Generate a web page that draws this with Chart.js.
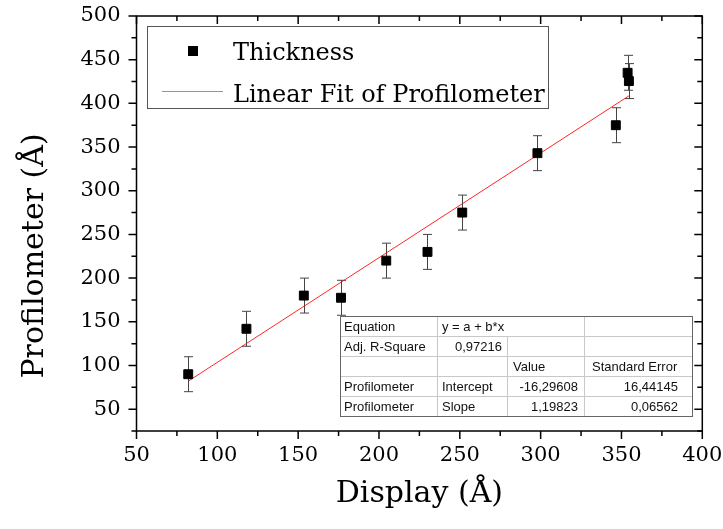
<!DOCTYPE html>
<html>
<head>
<meta charset="utf-8">
<script src="https://cdn.jsdelivr.net/npm/chart.js@4.4.1/dist/chart.umd.min.js"></script>
<style>
  html, body { margin: 0; padding: 0; background: #fff; }
</style>
</head>
<body>
<canvas id="chart" width="723" height="529"></canvas>
<script>
/* DATOS */
const displayX   = [82, 118, 153.5, 176.5, 204.5, 230, 251.5, 298, 346.5, 353.8, 354.6];
const thickness  = [90, 142, 180, 177.5, 220, 230, 275, 343, 375, 435, 425.5];
const thickErr   = [20, 20, 20, 20, 20, 20, 20, 20, 20, 20, 20];
const fitX       = [82, 354.6];
const fitY       = [82, 408.6];
const xTicks     = [50, 100, 150, 200, 250, 300, 350, 400];
const yTicks     = [50, 100, 150, 200, 250, 300, 350, 400, 450, 500];

const legendLabels = ['Thickness', 'Linear Fit of Profilometer'];

const tableRows = [
  ['Equation', 'y = a + b*x', '', ''],
  ['Adj. R-Square', '0,97216', '', ''],
  ['', '', 'Value', 'Standard Error'],
  ['Profilometer', 'Intercept', '-16,29608', '16,44145'],
  ['Profilometer', 'Slope', '1,19823', '0,06562'],
];

const serif = '"DejaVu Serif", serif';

/* PLUGIN: marco, marcas, barras de error, leyenda y tabla */
const decoraciones = {
  id: 'decoraciones',
  beforeDatasetsDraw(chart) {
    const { ctx, scales: { x, y } } = chart;
    ctx.save();
    ctx.strokeStyle = '#444';
    ctx.lineWidth = 1;
    displayX.forEach((v, i) => {
      const px = Math.round(x.getPixelForValue(v)) + 0.5;
      const top = y.getPixelForValue(thickness[i] + thickErr[i]);
      const bot = y.getPixelForValue(thickness[i] - thickErr[i]);
      ctx.beginPath();
      ctx.moveTo(px, top); ctx.lineTo(px, bot);
      ctx.moveTo(px - 4.5, top); ctx.lineTo(px + 4.5, top);
      ctx.moveTo(px - 4.5, bot); ctx.lineTo(px + 4.5, bot);
      ctx.stroke();
    });
    ctx.restore();
  },
  afterDraw(chart) {
    const { ctx, chartArea: a, scales: { x, y } } = chart;
    ctx.save();

    // marco
    ctx.strokeStyle = '#000';
    ctx.lineWidth = 1.5;
    ctx.strokeRect(a.left, a.top, a.right - a.left, a.bottom - a.top);

    // marcas mayores y menores
    ctx.beginPath();
    for (let v = x.min; v <= x.max; v += 25) {
      const px = x.getPixelForValue(v);
      const len = v % 50 === 0 ? 8 : 5;
      ctx.moveTo(px, a.bottom); ctx.lineTo(px, a.bottom + len);
      ctx.moveTo(px, a.top); ctx.lineTo(px, a.top + len);
    }
    for (let v = y.min; v <= y.max; v += 25) {
      const py = y.getPixelForValue(v);
      const len = v % 50 === 0 ? 8 : 5;
      ctx.moveTo(a.left, py); ctx.lineTo(a.left - len, py);
      ctx.moveTo(a.right, py); ctx.lineTo(a.right - len, py);
    }
    ctx.stroke();

    // titulos de ejes
    ctx.fillStyle = '#000';
    ctx.font = '30px ' + serif;
    ctx.textAlign = 'center';
    ctx.textBaseline = 'middle';
    ctx.fillText('Display (Å)', (a.left + a.right) / 2, 494);
    ctx.save();
    ctx.translate(35, 256);
    ctx.rotate(-Math.PI / 2);
    ctx.fillText('Profilometer (Å)', 0, 0);
    ctx.restore();

    // leyenda
    ctx.fillStyle = '#fff';
    ctx.fillRect(147, 26, 401, 82);
    ctx.strokeStyle = '#555';
    ctx.lineWidth = 1;
    ctx.strokeRect(147.5, 26.5, 401, 82);
    ctx.fillStyle = '#000';
    ctx.fillRect(188, 46, 10, 10);
    ctx.strokeStyle = 'rgba(255,0,0,0.6)';
    ctx.beginPath();
    ctx.moveTo(162, 91.5); ctx.lineTo(223, 91.5);
    ctx.stroke();
    ctx.font = '24px ' + serif;
    ctx.textAlign = 'left';
    ctx.textBaseline = 'alphabetic';
    ctx.fillText(legendLabels[0], 233, 60);
    ctx.fillText(legendLabels[1], 233, 102);

    // tabla del ajuste
    const cols = [340, 437, 507, 584, 692];
    const rowY = [316, 336, 356, 376, 396, 416];
    ctx.fillStyle = '#fff';
    ctx.fillRect(cols[0], rowY[0], cols[4] - cols[0], rowY[5] - rowY[0]);
    ctx.strokeStyle = '#c8c8c8';
    ctx.beginPath();
    for (let r = 1; r < 5; r++) {
      ctx.moveTo(cols[0], rowY[r] + 0.5); ctx.lineTo(cols[4], rowY[r] + 0.5);
    }
    ctx.moveTo(cols[1] + 0.5, rowY[0]); ctx.lineTo(cols[1] + 0.5, rowY[5]);
    ctx.moveTo(cols[2] + 0.5, rowY[1]); ctx.lineTo(cols[2] + 0.5, rowY[5]);
    ctx.moveTo(cols[3] + 0.5, rowY[0]); ctx.lineTo(cols[3] + 0.5, rowY[5]);
    ctx.stroke();
    ctx.strokeStyle = '#666';
    ctx.strokeRect(cols[0] + 0.5, rowY[0] + 0.5, cols[4] - cols[0], rowY[5] - rowY[0]);

    ctx.font = '13px "Liberation Sans", Arial, sans-serif';
    ctx.fillStyle = '#111';
    // posicion x y alineacion de cada columna
    const anclas = [
      [[344, 'left'], [442, 'left'], [513, 'left'], [592, 'left']],
      [[344, 'left'], [502, 'right'], [513, 'left'], [592, 'left']],
      [[344, 'left'], [442, 'left'], [513, 'left'], [592, 'left']],
      [[344, 'left'], [442, 'left'], [578, 'right'], [678, 'right']],
      [[344, 'left'], [442, 'left'], [578, 'right'], [678, 'right']],
    ];
    tableRows.forEach((fila, r) => {
      fila.forEach((txt, c) => {
        if (!txt) return;
        ctx.textAlign = anclas[r][c][1];
        ctx.fillText(txt, anclas[r][c][0], rowY[r] + 14.7);
      });
    });

    ctx.restore();
  },
};

const sinRelleno = s => {
  s.paddingTop = 0; s.paddingBottom = 0; s.paddingLeft = 0; s.paddingRight = 0;
};

/* GRAFICA */
function renderChart() {
  const ctx = document.getElementById('chart').getContext('2d');

  new Chart(ctx, {
    type: 'scatter',
    data: {
      datasets: [
        {
          label: legendLabels[0],
          data: displayX.map((v, i) => ({ x: v, y: thickness[i] })),
          pointStyle: 'rect',
          pointRadius: 6.3,
          backgroundColor: '#000',
          borderColor: '#000',
          borderWidth: 1,
          order: 0,
        },
        {
          type: 'line',
          label: legendLabels[1],
          data: fitX.map((v, i) => ({ x: v, y: fitY[i] })),
          borderColor: 'rgba(255,0,0,0.85)',
          borderWidth: 1,
          pointRadius: 0,
          fill: false,
          order: 1,
        },
      ],
    },
    options: {
      responsive: false,
      animation: false,
      layout: { padding: { top: 16, right: 20.7, left: 0, bottom: 0 } },
      plugins: {
        legend: { display: false },
        tooltip: { enabled: false },
      },
      scales: {
        x: {
          type: 'linear',
          min: 50,
          max: 400,
          afterBuildTicks: s => { s.ticks = xTicks.map(v => ({ value: v })); },
          afterFit: s => { s.height = 98; sinRelleno(s); },
          grid: { display: false, drawTicks: false },
          border: { display: false },
          ticks: { color: '#000', font: { family: serif, size: 21 }, padding: 12, maxRotation: 0 },
        },
        y: {
          type: 'linear',
          min: 25,
          max: 500,
          afterBuildTicks: s => { s.ticks = yTicks.map(v => ({ value: v })); },
          afterFit: s => { s.width = 136.5; sinRelleno(s); },
          grid: { display: false, drawTicks: false },
          border: { display: false },
          ticks: { color: '#000', font: { family: serif, size: 21 }, padding: 16 },
        },
      },
    },
    plugins: [decoraciones],
  });
}

/* INIT */
renderChart();
</script>
</body>
</html>
